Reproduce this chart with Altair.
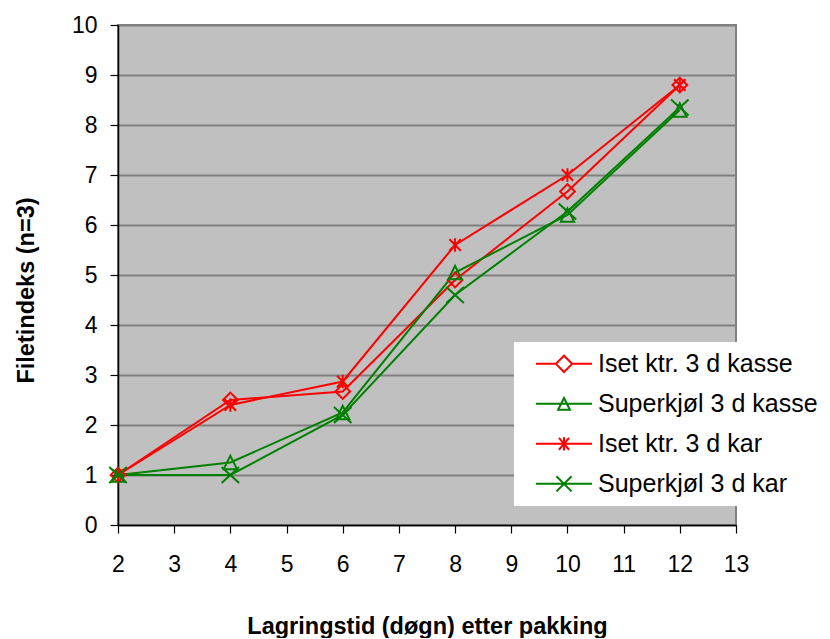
import altair as alt
import pandas as pd

# ---- data ----
days = [2, 4, 6, 8, 10, 12]
series_names = ["Iset ktr. 3 d kasse", "Superkjøl 3 d kasse", "Iset ktr. 3 d kar", "Superkjøl 3 d kar"]
iset_kasse = [1.0, 2.5, 2.67, 4.9, 6.67, 8.8]
superkjol_kasse = [1.0, 1.25, 2.25, 5.05, 6.2, 8.3]
iset_kar = [1.0, 2.4, 2.87, 5.6, 7.0, 8.8]
superkjol_kar = [1.0, 1.0, 2.2, 4.6, 6.27, 8.35]
series_colors = ["#FF0000", "#008000", "#FF0000", "#008000"]
x_ticks = list(range(2, 14))
y_ticks = list(range(0, 11))

values_by_series = [iset_kasse, superkjol_kasse, iset_kar, superkjol_kar]
rows = []
for name, vals in zip(series_names, values_by_series):
    for d, v in zip(days, vals):
        rows.append({"day": d, "value": v, "series": name})
df = pd.DataFrame(rows)

marker_paths = [
    "M0,-1.05L1.05,0L0,1.05L-1.05,0Z",
    "M0,-0.95L0.95,0.95L-0.95,0.95Z",
    "M-0.82,-0.82L0.82,0.82M0.82,-0.82L-0.82,0.82M0,-0.98L0,0.98",
    "M-1.25,-1.15L1.25,1.15M1.25,-1.15L-1.25,1.15",
]
legend_paths = [
    "M-1,0L-0.29,0M0.29,0L1,0M0,-0.29L0.29,0L0,0.29L-0.29,0Z",
    "M-1,0L1,0M0,-0.21L0.21,0.21L-0.21,0.21Z",
    "M-1,0L1,0M-0.18,-0.21L0.18,0.21M0.18,-0.21L-0.18,0.21M0,-0.24L0,0.24",
    "M-1,0L1,0M-0.27,-0.27L0.27,0.27M0.27,-0.27L-0.27,0.27",
]

x_enc = alt.X(
    "day:Q",
    scale=alt.Scale(domain=[2, 13], nice=False, zero=False),
    axis=alt.Axis(
        values=x_ticks, format="d", title="Lagringstid (døgn) etter pakking",
        grid=False, tickSize=8, labelPadding=38, labelBaseline="alphabetic",
        labelFlush=False,
        titleX=309, titleY=108, titleBaseline="alphabetic", titleAlign="center",
    ),
)
y_enc = alt.Y(
    "value:Q",
    scale=alt.Scale(domain=[0, 10], nice=False, zero=True),
    axis=alt.Axis(
        values=y_ticks, title="Filetindeks (n=3)", grid=True,
        gridColor="#808080", gridWidth=2, tickSize=8, labelPadding=13,
        labelFlush=False,
        titleX=-85, titleY=265, titleAngle=270, titleBaseline="alphabetic",
        titleAlign="center",
    ),
)
color_scale = alt.Scale(domain=series_names, range=series_colors)

lines = alt.Chart(df).mark_line(strokeWidth=2).encode(
    x=x_enc, y=y_enc,
    color=alt.Color("series:N", scale=color_scale, legend=None, sort=series_names),
    detail="series:N",
)
points = alt.Chart(df).mark_point(filled=False, strokeWidth=2, size=49 * 4, opacity=1).encode(
    x=x_enc, y=y_enc,
    color=alt.Color("series:N", scale=color_scale, legend=None, sort=series_names),
    shape=alt.Shape("series:N", scale=alt.Scale(domain=series_names, range=marker_paths), legend=None),
)

leg = alt.Legend(
    title=None, orient="none", legendX=396, legendY=317, direction="vertical",
    fillColor="white", padding=2, clipHeight=39.7, rowPadding=0,
    symbolSize=3136, symbolStrokeWidth=2, symbolOffset=19, symbolOpacity=1,
    labelOffset=5, labelFont="Liberation Sans", labelFontSize=25,
    labelColor="black", labelLimit=400,
)
legend_layer = alt.Chart(df).mark_point(filled=False, strokeWidth=2, opacity=0).encode(
    x=x_enc, y=y_enc,
    color=alt.Color("series:N", scale=color_scale, legend=leg),
    shape=alt.Shape("series:N", scale=alt.Scale(domain=series_names, range=legend_paths), legend=leg),
)

chart = alt.layer(lines, points, legend_layer).resolve_scale(
    color="independent", shape="independent"
).properties(
    width=618, height=500,
    autosize=alt.AutoSizeParams(type="none"),
    padding={"left": 110, "top": 17, "right": 86, "bottom": 113},
    background="white",
).configure_view(
    fill="#C0C0C0", stroke="#808080", strokeWidth=2,
).configure_axis(
    labelFont="Liberation Sans", labelFontSize=23, labelColor="black",
    titleFont="Liberation Sans", titleFontSize=23.5, titleFontWeight="bold", titleColor="black",
    domainColor="black", domainWidth=1.5, tickColor="black", tickWidth=1.2,
)

chart.save("out.html", embed_options={"renderer": "svg", "actions": False})
